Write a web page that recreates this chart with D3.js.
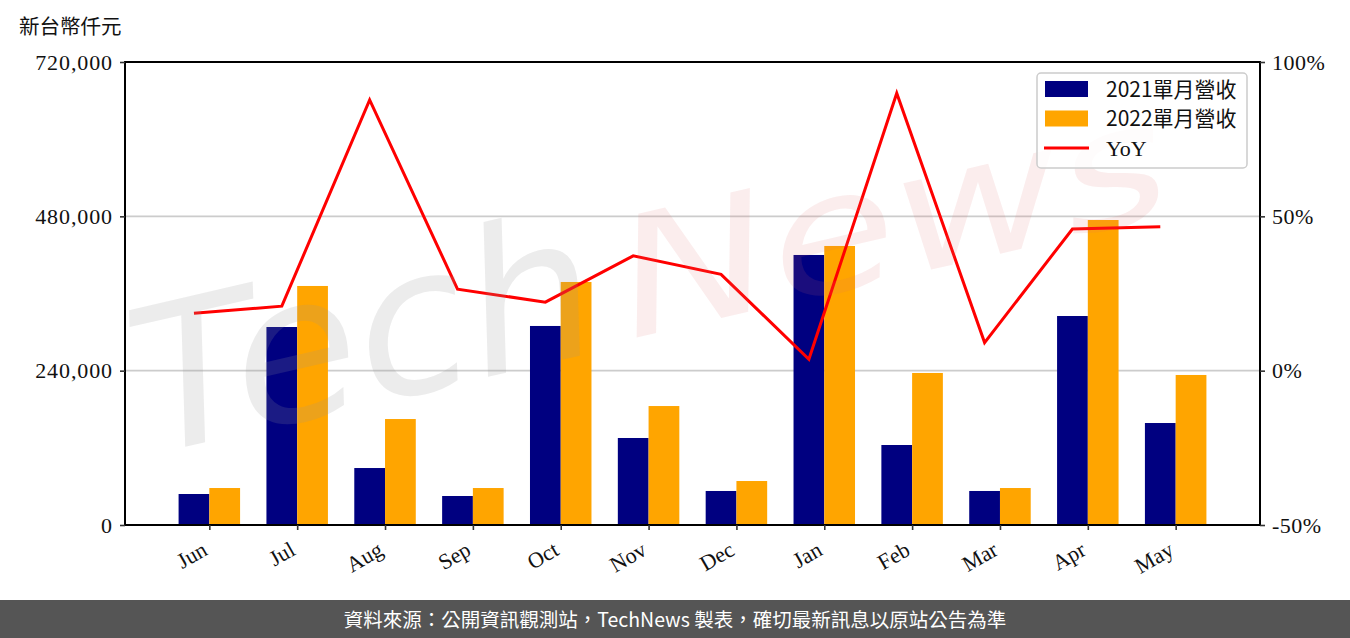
<!DOCTYPE html>
<html><head><meta charset="utf-8">
<script src="https://cdn.jsdelivr.net/npm/d3@7"></script>
<style>
body{margin:0;background:#fff;}
svg{display:block;}
</style></head>
<body>
<script>
const months = ["Jun","Jul","Aug","Sep","Oct","Nov","Dec","Jan","Feb","Mar","Apr","May"];
const rev2021 = [48200, 307900, 88600, 45100, 309500, 135300, 52900, 419900, 124400, 52900, 325000, 158600];
const rev2022 = [57500, 371700, 164800, 57500, 377900, 185000, 68400, 433900, 236400, 57500, 474300, 233300];
const yoy = [18.6, 20.9, 87.7, 26.4, 22.2, 37.2, 31.2, 3.7, 89.9, 9.1, 45.9, 46.6];
const leftTicks = [0, 240000, 480000, 720000];
const rightTicks = [-50, 0, 50, 100];
const legendLabels = ["2021單月營收", "2022單月營收", "YoY"];
const unitLabel = "新台幣仟元";
const footerText = "資料來源：公開資訊觀測站，TechNews 製表，確切最新訊息以原站公告為準";

const W = 1350, H = 638;
const L = 125, R = 1260, T = 62, B = 525;
const serif = "'Liberation Serif','DejaVu Serif',serif";
const cjk = "'Noto Sans CJK TC','Noto Sans CJK SC',sans-serif";

const svg = d3.select("body").append("svg").attr("width", W).attr("height", H);

const x = d3.scaleLinear().domain([-0.96, 11.96]).range([L, R]);
const yL = d3.scaleLinear().domain([0, 720000]).range([B, T]);
const yR = d3.scaleLinear().domain([-50, 100]).range([B, T]);
const bw = x(0.35) - x(0);

// grid
svg.append("g").selectAll("line").data(leftTicks.filter(d => d > 0 && d < 720000)).join("line")
  .attr("x1", L).attr("x2", R).attr("y1", d => yL(d)).attr("y2", d => yL(d))
  .attr("stroke", "#cccccc").attr("stroke-width", 1.6);

// bars
svg.append("g").selectAll("rect").data(rev2021).join("rect")
  .attr("x", (d, i) => x(i - 0.35)).attr("width", bw)
  .attr("y", d => yL(d)).attr("height", d => yL(0) - yL(d)).attr("fill", "#000080");
svg.append("g").selectAll("rect").data(rev2022).join("rect")
  .attr("x", (d, i) => x(i)).attr("width", bw)
  .attr("y", d => yL(d)).attr("height", d => yL(0) - yL(d)).attr("fill", "#FFA500");

// line
svg.append("path").datum(yoy)
  .attr("d", d3.line().x((d, i) => x(i - 0.175)).y(d => yR(d)))
  .attr("fill", "none").attr("stroke", "#ff0000").attr("stroke-width", 3).attr("stroke-linejoin", "miter");

// watermark (inside plot)
const wm = svg.append("g").attr("transform", "translate(150,455) rotate(-13)").style("pointer-events", "none");
wm.append("text").attr("x", 0).attr("y", 0).text("Tech")
  .attr("font-family", "'DejaVu Sans',sans-serif").attr("font-style", "italic")
  .attr("font-size", 200).attr("textLength", 470).attr("lengthAdjust", "spacingAndGlyphs")
  .attr("fill", "rgba(150,150,150,0.18)");
wm.append("text").attr("x", 495).attr("y", -5).text("News")
  .attr("font-family", "'DejaVu Sans',sans-serif").attr("font-style", "italic")
  .attr("font-size", 165).attr("textLength", 560).attr("lengthAdjust", "spacingAndGlyphs")
  .attr("fill", "rgba(225,110,110,0.12)");

// frame
svg.append("rect").attr("x", L).attr("y", T).attr("width", R - L).attr("height", B - T)
  .attr("fill", "none").attr("stroke", "#000").attr("stroke-width", 2);

// left axis
const gl = svg.append("g").attr("transform", `translate(${L},0)`)
  .call(d3.axisLeft(yL).tickValues(leftTicks).tickFormat(d3.format(",")).tickSize(5).tickPadding(7));
gl.select(".domain").remove();
gl.selectAll("line").attr("stroke", "#333").attr("stroke-width", 1.6);
gl.selectAll("text").attr("font-family", serif).attr("font-size", 22).attr("letter-spacing", 0.9).attr("fill", "#111");

// right axis
const gr = svg.append("g").attr("transform", `translate(${R},0)`)
  .call(d3.axisRight(yR).tickValues(rightTicks).tickFormat(d => d + "%").tickSize(5).tickPadding(7));
gr.select(".domain").remove();
gr.selectAll("line").attr("stroke", "#333").attr("stroke-width", 1.6);
gr.selectAll("text").attr("font-family", serif).attr("font-size", 22).attr("letter-spacing", 0.5).attr("fill", "#111");

// x axis
const gx = svg.append("g").attr("transform", `translate(0,${B})`)
  .call(d3.axisBottom(x).tickValues(d3.range(months.length)).tickFormat(i => months[i]).tickSize(5).tickPadding(6));
gx.select(".domain").remove();
gx.selectAll("line").attr("stroke", "#333").attr("stroke-width", 1.6);
gx.selectAll("text").attr("font-family", serif).attr("font-size", 22).attr("fill", "#111")
  .attr("text-anchor", "end").attr("dy", null).attr("y", 0)
  .attr("transform", "translate(-1,29) rotate(-30)");

// unit label
svg.append("text").attr("x", 19).attr("y", 34).text(unitLabel)
  .attr("font-family", cjk).attr("font-size", 20.5).attr("fill", "#111");

// legend
const lg = svg.append("g");
lg.append("rect").attr("x", 1037).attr("y", 73).attr("width", 210).attr("height", 95).attr("rx", 4)
  .attr("fill", "rgba(255,255,255,0.8)").attr("stroke", "#cccccc").attr("stroke-width", 1.5);
const colors = ["#000080", "#FFA500"];
legendLabels.forEach((t, i) => {
  const cy = 89 + i * 29.5;
  if (i < 2) {
    lg.append("rect").attr("x", 1045).attr("y", cy - 8).attr("width", 43).attr("height", 16).attr("fill", colors[i]);
  } else {
    lg.append("line").attr("x1", 1044).attr("x2", 1089).attr("y1", cy).attr("y2", cy)
      .attr("stroke", "#ff0000").attr("stroke-width", 3);
  }
  lg.append("text").attr("x", 1106).attr("y", cy).attr("dy", "0.36em").text(t)
    .attr("font-family", i < 2 ? cjk : serif).attr("font-size", i < 2 ? 21 : 22).attr("fill", "#111");
});

// footer
svg.append("rect").attr("x", 0).attr("y", 600).attr("width", W).attr("height", 38).attr("fill", "#555555");
svg.append("text").attr("x", 675).attr("y", 620).attr("dy", "0.35em").attr("text-anchor", "middle")
  .text(footerText).attr("font-family", cjk).attr("font-size", 19.5).attr("fill", "#ffffff");
</script>
</body></html>
